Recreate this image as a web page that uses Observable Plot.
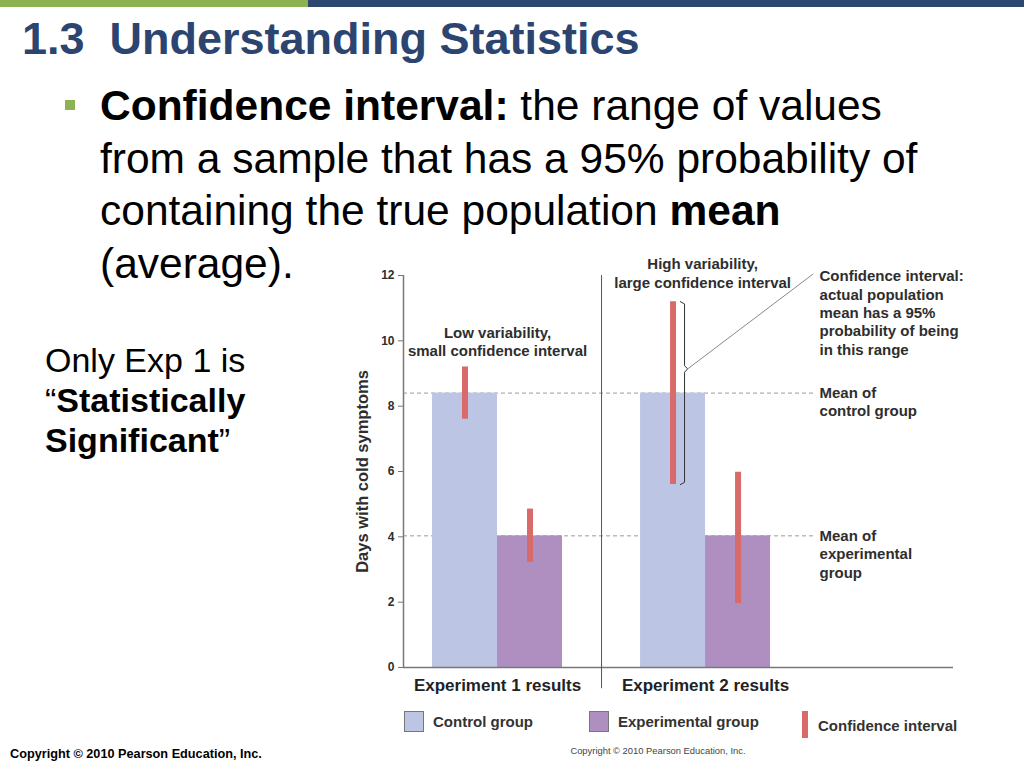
<!DOCTYPE html>
<html><head><meta charset="utf-8">
<script src="https://cdn.jsdelivr.net/npm/d3@7"></script>
<script src="https://cdn.jsdelivr.net/npm/@observablehq/plot@0.6"></script>
<style>
html,body{margin:0;padding:0;background:#fff;}
#page{position:relative;width:1024px;height:768px;overflow:hidden;font-family:"Liberation Sans",Arial,Helvetica,sans-serif;}
.abs{position:absolute;white-space:nowrap;}
#chart{position:absolute;left:0;top:0;width:1024px;height:768px;}
#topGreen{position:absolute;left:0;top:0;width:308px;height:7px;background:#8DB254;}
#topNavy{position:absolute;left:308px;top:0;width:716px;height:7px;background:#2C4770;}
#title{left:22px;top:16px;font-size:45px;line-height:45px;font-weight:bold;color:#2B4570;}
#bullet{left:65px;top:100px;width:10px;height:10px;background:#8DB254;}
#para{left:100px;top:80px;font-size:42.5px;line-height:52.5px;color:#000;}
#note{left:45px;top:340px;font-size:34px;line-height:40px;color:#000;}
.sw{position:absolute;width:18px;height:19px;border:1.5px solid #777;}
.leg{position:absolute;font-size:15px;line-height:15px;font-weight:bold;color:#333;white-space:nowrap;}
</style></head><body>
<div id="page">
  <div id="chart"></div>
  <div id="topGreen"></div><div id="topNavy"></div>
  <div id="title" class="abs"></div>
  <div id="bullet" class="abs"></div>
  <div id="para" class="abs"></div>
  <div id="note" class="abs"></div>
  <div id="legend"></div>
  <div id="chartCopy" class="abs" style="left:558px;top:746px;width:200px;text-align:center;font-size:9.4px;line-height:10px;color:#444;"></div>
  <div id="slideCopy" class="abs" style="left:10px;top:748px;font-size:12.7px;line-height:12.7px;font-weight:bold;color:#000;"></div>
</div>
<script>
// ---- data ----
const experiments = ["Experiment 1 results", "Experiment 2 results"];
const groups = ["Control group", "Experimental group"];
const exp1Means = [8.4, 4.03];
const exp2Means = [8.4, 4.03];
const exp1CiLow = [7.6, 3.22];
const exp1CiHigh = [9.2, 4.85];
const exp2CiLow = [5.6, 1.96];
const exp2CiHigh = [11.2, 5.98];
const yTicks = [0, 2, 4, 6, 8, 10, 12];
const yLabel = "Days with cold symptoms";
const legendLabels = ["Control group", "Experimental group", "Confidence interval"];
const annotationTexts = [
  "Low variability,\nsmall confidence interval",
  "High variability,\nlarge confidence interval",
  "Confidence interval:\nactual population\nmean has a 95%\nprobability of being\nin this range",
  "Mean of\ncontrol group",
  "Mean of\nexperimental\ngroup"
];
const titleText = "1.3\u00a0 Understanding Statistics";
const copyrightText = "Copyright \u00a9 2010 Pearson Education, Inc.";

// ---- slide text ----
document.getElementById("title").textContent = titleText;
document.getElementById("para").innerHTML =
  "<b>Confidence interval:</b> the range of values<br>from a sample that has a 95% probability of<br>containing the true population <b>mean</b><br>(average).";
document.getElementById("note").innerHTML =
  "Only Exp 1 is<br>\u201c<b>Statistically</b><br><b>Significant</b>\u201d";
document.getElementById("chartCopy").textContent = copyrightText;
document.getElementById("slideCopy").textContent = copyrightText;

// ---- chart ----
const colors = ["#BCC6E4", "#AE8FC0"];
const ciColor = "#D86A6A";
const ink = "#2e2e2e";
const means = [exp1Means, exp2Means];
const lows = [exp1CiLow, exp2CiLow];
const highs = [exp1CiHigh, exp2CiHigh];
const BAR = 0.3125;
const rows = experiments.flatMap((e, i) => groups.map((g, j) => ({
  experiment: e, group: g,
  x1: i + 1 - BAR + j * BAR, x2: i + 1 + j * BAR,
  mean: means[i][j], lo: lows[i][j], hi: highs[i][j]
})));
const meanLines = groups.map((g, j) => ({group: g, mean: exp1Means[j]}));
const X0 = 0.548, X1 = 3.192;
const lineEnd = 2.519;

// bracket next to experiment 2 control CI
const bRow = rows[2];
const bx = 1.899, hook = 9.14;
const bracket = [
  {x: bx - 0.02, y: bRow.hi}, {x: bx, y: bRow.hi - 0.07},
  {x: bx, y: hook + 0.1}, {x: bx + 0.015, y: hook}, {x: bx, y: hook - 0.1},
  {x: bx, y: bRow.lo + 0.07}, {x: bx - 0.02, y: bRow.lo}
];

const txt = {fontSize: 15, fontWeight: "bold", fill: ink, lineHeight: 1.22};

const chart = Plot.plot({
  width: 1024, height: 768,
  marginLeft: 403, marginRight: 71, marginTop: 275, marginBottom: 101,
  style: {fontFamily: "'Liberation Sans', Arial, sans-serif", background: "transparent", overflow: "visible"},
  x: {domain: [X0, X1]},
  y: {domain: [0, 12]},
  color: {domain: groups, range: colors},
  marks: [
    Plot.ruleY(meanLines, {y: "mean", x1: X0, x2: lineEnd, stroke: "#9a9a9a", strokeWidth: 1, strokeDasharray: "4,3"}),
    Plot.rectY(rows, {x1: "x1", x2: "x2", y: "mean", fill: "group"}),
    Plot.ruleX(rows, {x: d => (d.x1 + d.x2) / 2, y1: "lo", y2: "hi", stroke: ciColor, strokeWidth: 6}),
    Plot.ruleY([0], {stroke: "#777", strokeWidth: 1.5}),
    Plot.ruleX([X0], {y1: 0, y2: 12, stroke: "#777", strokeWidth: 1.5}),
    Plot.ruleX([1.5], {y1: -0.65, y2: 12, stroke: "#555", strokeWidth: 1}),
    Plot.axisY({ticks: yTicks, tickSize: 5, tickPadding: 4, fontSize: 12, fontWeight: "bold", stroke: "#777", fill: ink, label: null}),
    Plot.axisX({ticks: experiments.map((_, i) => i + 1), tickFormat: d => experiments[d - 1], tickSize: 0, tickPadding: 11, fontSize: 17, fontWeight: "bold", fill: "#222", label: null}),
    Plot.text([yLabel], {frameAnchor: "left", textAnchor: "middle", dx: -41, rotate: -90, fontSize: 16.5, fontWeight: "bold", fill: ink}),
    Plot.line(bracket, {x: "x", y: "y", stroke: "#333", strokeWidth: 1}),
    Plot.link([0], {x1: bx + 0.015, y1: hook, x2: lineEnd - 0.001, y2: 12.05, stroke: "#888", strokeWidth: 1}),
    Plot.text([annotationTexts[0]], {x: 1, y: 9.98, ...txt}),
    Plot.text([annotationTexts[1]], {x: 1.986, y: 12.09, ...txt}),
    Plot.text([annotationTexts[2]], {x: 2.548, y: 10.88, textAnchor: "start", ...txt}),
    Plot.text([annotationTexts[3]], {x: 2.548, y: 8.16, textAnchor: "start", ...txt}),
    Plot.text([annotationTexts[4]], {x: 2.548, y: 3.49, textAnchor: "start", ...txt})
  ]
});
document.getElementById("chart").appendChild(chart);

// ---- legend ----
const legend = document.getElementById("legend");
const swLeft = [404, 589];
groups.forEach((g, j) => {
  const s = document.createElement("div");
  s.className = "sw";
  s.style.left = swLeft[j] + "px"; s.style.top = "711px"; s.style.background = colors[j];
  legend.appendChild(s);
  const t = document.createElement("div");
  t.className = "leg"; t.textContent = legendLabels[j];
  t.style.left = (swLeft[j] + 29) + "px"; t.style.top = "714px";
  legend.appendChild(t);
});
const ciSw = document.createElement("div");
ciSw.style.cssText = "position:absolute;left:802px;top:711px;width:6px;height:27px;background:" + ciColor;
legend.appendChild(ciSw);
const ciT = document.createElement("div");
ciT.className = "leg"; ciT.textContent = legendLabels[2];
ciT.style.left = "818px"; ciT.style.top = "718px";
legend.appendChild(ciT);
</script>
</body></html>
